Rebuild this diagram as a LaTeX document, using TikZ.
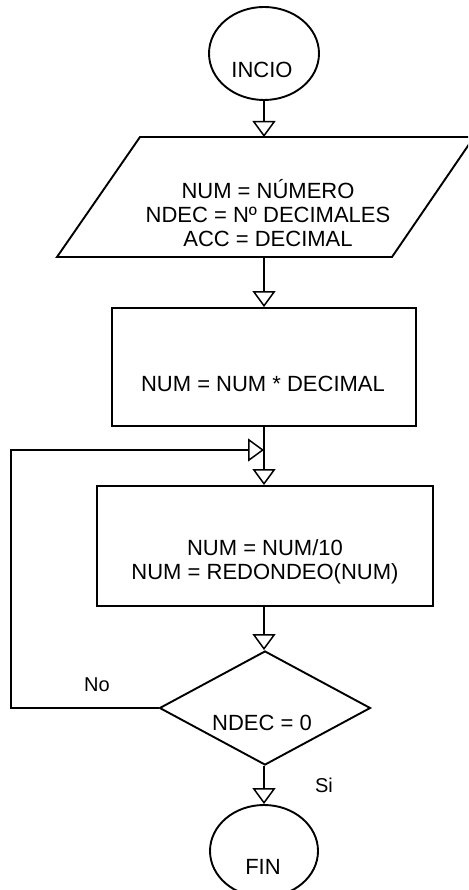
\documentclass[tikz,border=0pt]{standalone}
\usepackage{fontspec}
\setmainfont{Liberation Sans}
\usetikzlibrary{arrows.meta,shapes.geometric}
\tikzset{
  shp/.style={draw=black, line width=1.9pt, fill=none, inner sep=0pt},
  box/.style={shp, rectangle},
  term/.style={shp, ellipse},
  decis/.style={shp, diamond},
  txt/.style={font=\fontsize{22}{24}\selectfont, align=center, inner sep=0pt},
  lbl/.style={font=\fontsize{20}{22}\selectfont, inner sep=0pt},
  flow/.style={line width=1.9pt, -{Triangle[open, width=23pt, length=16pt, line width=1.5pt]}},
}
\begin{document}
\begin{tikzpicture}[x=1pt,y=-1pt]
\clip (0,0) rectangle (468,890);
\fill[white] (0,0) rectangle (468,890);

% INICIO
\node[term, minimum width=110pt, minimum height=93pt] (ini) at (264,53.5) {};
\node[txt] (tini) at (262,70) {INCIO};

% input parallelogram
\draw[shp, line join=miter] (57,257) -- (140,137) -- (474,137) -- (392,257) -- cycle;
\coordinate (partop) at (264,137);
\coordinate (parbot) at (264,257);
\node[txt] (tpar) at (268,213) {NUM = NÚMERO\\NDEC = Nº DECIMALES\\ACC = DECIMAL};

% process 1
\node[box, minimum width=304pt, minimum height=118pt] (r1) at (264,367) {};
\node[txt] (tr1) at (263,384) {NUM = NUM * DECIMAL};

% junction
\coordinate (j) at (264,450);
\coordinate (lc) at (11,450);

% process 2
\node[box, minimum width=336pt, minimum height=120pt] (r2) at (265,546) {};
\node[txt] (tr2) at (265,562) {NUM = NUM/10\\NUM = REDONDEO(NUM)};

% decision
\node[decis, minimum width=211pt, minimum height=114pt] (dec) at (265,708) {};
\node[txt] (tdec) at (262,723) {NDEC = 0};

% FIN
\node[term, minimum width=108pt, minimum height=92pt] (fin) at (264,851) {};
\node[txt] (tfin) at (263,867) {FIN};

% connectors
\draw[flow] (ini.south) -- (partop);
\draw[flow] (parbot) -- (r1.north);
\draw[line width=1.9pt] (r1.south) -- (j);
\draw[flow] (j) -- (j |- r2.north);
\draw[flow] (j |- r2.south) -- (j |- dec.north);
\draw[flow] (j |- dec.south) -- (fin.north);
\draw[flow] (dec.west) -| (lc) -- (j);

% labels
\node[lbl] (no) at (97,685) {No};
\node[lbl] (si) at (324,785) {Si};
\end{tikzpicture}
\end{document}
